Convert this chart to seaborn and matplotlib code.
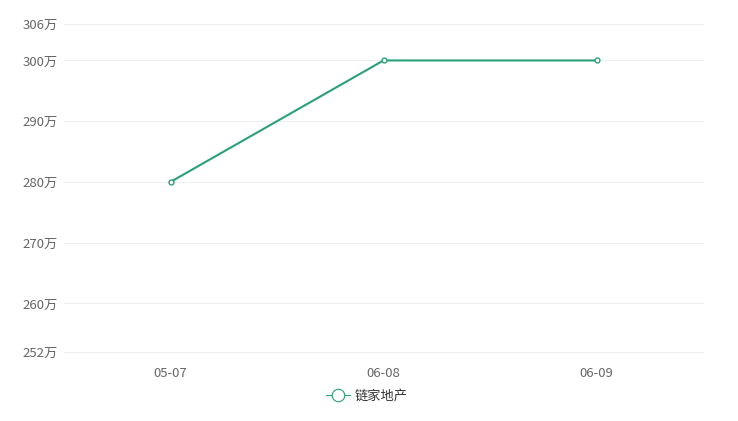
import pandas as pd
import seaborn as sns
import matplotlib.pyplot as plt

dates = ['05-07', '06-08', '06-09']
prices = [280, 300, 300]
series_name = '链家地产'
yticks = [252, 260, 270, 280, 290, 300, 306]

df = pd.DataFrame({'date': dates, 'price': prices, 'name': series_name})

sns.set_style('white')
plt.rcParams['font.family'] = ['Noto Sans CJK SC', 'DejaVu Sans']

fig = plt.figure(figsize=(7.38, 4.21), dpi=100)
ax = fig.add_axes([64 / 738, (421 - 352) / 421, (703 - 64) / 738, (352 - 24) / 421])

color = '#2aa078'
sns.lineplot(data=df, x='date', y='price', ax=ax, color=color, linewidth=1.5,
             marker='o', markersize=3.5, markerfacecolor='white',
             markeredgecolor=color, markeredgewidth=1, sort=False, legend=False)

ax.set_xlim(-0.5, 2.5)
ax.set_ylim(252, 306)
ax.set_yticks(yticks)
ax.set_yticklabels([f'{v}万' for v in yticks])
ax.grid(axis='y', color='#efefef', linewidth=0.8, clip_on=False)
ax.set_axisbelow(True)
for s in ax.spines.values():
    s.set_visible(False)
ax.tick_params(axis='both', length=0, labelsize=9.5, labelcolor='#666666')
ax.tick_params(axis='x', pad=11)
ax.tick_params(axis='y', pad=4.5)
ax.set_xlabel('')
ax.set_ylabel('')

handle = plt.Line2D([], [], color=color, linewidth=0.8, marker='o', markersize=9,
                    markerfacecolor='white', markeredgecolor=color, markeredgewidth=0.8)
fig.legend([handle], [series_name], loc='center', bbox_to_anchor=(367 / 738, 1 - 396 / 421),
           frameon=False, fontsize=9.5, handlelength=1.8, handletextpad=0.4,
           labelcolor='#333333')

fig.savefig('out.png', dpi=100)
